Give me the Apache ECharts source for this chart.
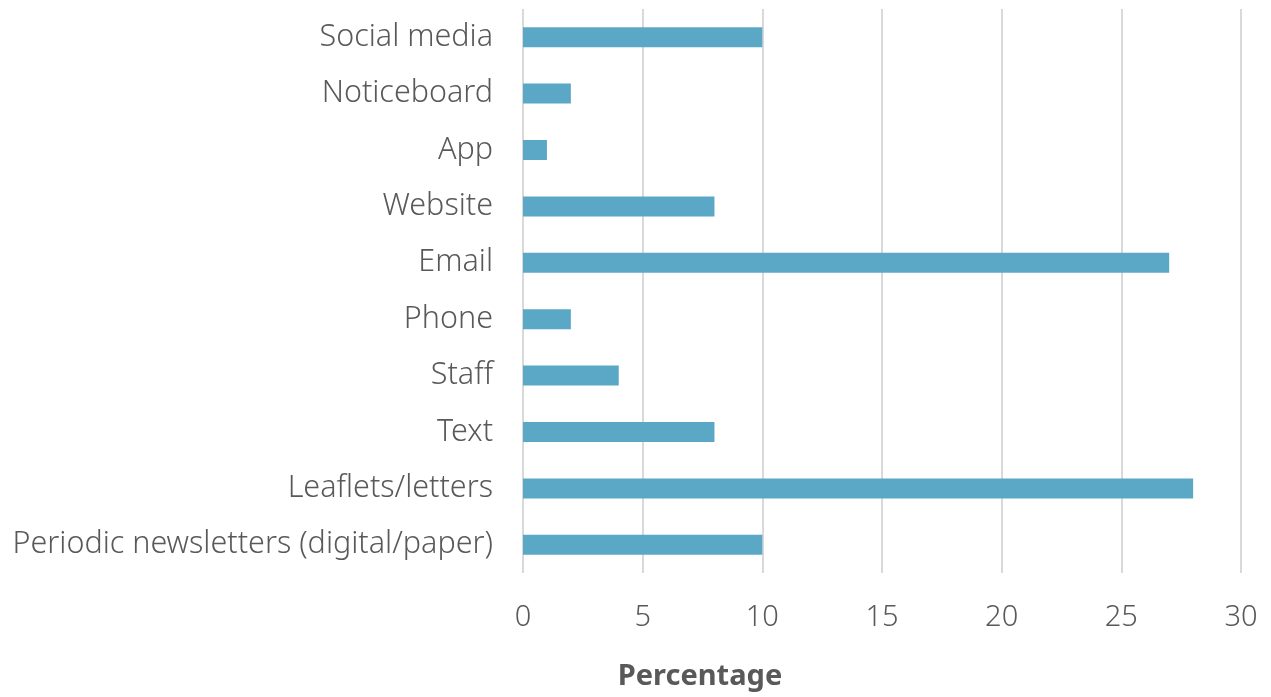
<!DOCTYPE html>
<html>
<head>
<meta charset="utf-8">
<script src="https://cdn.jsdelivr.net/npm/echarts@6/dist/echarts.min.js"></script>
<style>
  html, body { margin: 0; padding: 0; background: #ffffff; }
  #chart { width: 1271px; height: 697px; }
</style>
</head>
<body>
<div id="chart"></div>
<script>
// Channels, listed bottom to top as drawn on the category axis
const categories = [
  'Periodic newsletters (digital/paper)',
  'Leaflets/letters',
  'Text',
  'Staff',
  'Phone',
  'Email',
  'Website',
  'App',
  'Noticeboard',
  'Social media'
];
// Share of responses per channel (%)
const values = [10, 28, 8, 4, 2, 27, 8, 1, 2, 10];
const axisTitle = 'Percentage';

const textColor = '#595959';
const fontFamily = '"Noto Sans", "Open Sans", sans-serif';

const chart = echarts.init(document.getElementById('chart'));
chart.setOption({
  animation: false,
  grid: { left: 523, right: 30, top: 9, bottom: 124, containLabel: false, outerBoundsMode: 'none' },
  xAxis: {
    type: 'value',
    min: 0,
    max: 30,
    interval: 5,
    axisLine: { show: false },
    axisTick: { show: false },
    axisLabel: { color: textColor, fontSize: 29, fontWeight: 300, fontFamily: fontFamily, margin: 30 },
    splitLine: { show: true, lineStyle: { color: '#d9d9d9', width: 2 } }
  },
  yAxis: {
    type: 'category',
    data: categories,
    axisLine: { show: false },
    axisTick: { show: false },
    axisLabel: { color: textColor, fontSize: 30.5, fontWeight: 300, fontFamily: fontFamily, margin: 30 },
    splitLine: { show: false }
  },
  // Axis title for the value axis
  graphic: [{
    type: 'text',
    x: 700,
    y: 677,
    style: {
      text: axisTitle,
      fill: textColor,
      font: 'bold 29px ' + fontFamily,
      textAlign: 'center',
      textVerticalAlign: 'middle'
    }
  }],
  series: [{
    type: 'bar',
    data: values,
    barWidth: 20,
    itemStyle: { color: '#5ba7c6' }
  }]
});
</script>
</body>
</html>
